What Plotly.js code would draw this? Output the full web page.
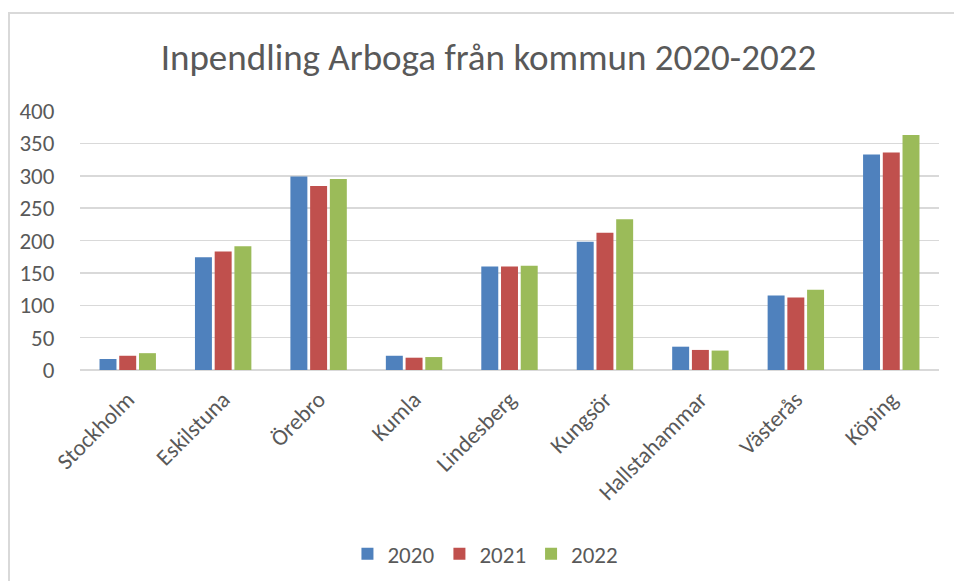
<!DOCTYPE html>
<html>
<head>
<meta charset="utf-8">
<script src="https://cdn.plot.ly/plotly-3.0.1.min.js"></script>
<style>
html,body{margin:0;padding:0;background:#fff;}
#wrap{position:relative;width:954px;height:581px;}
#chart{width:954px;height:581px;}
#frame{position:absolute;left:8px;top:12px;right:-10px;bottom:-10px;border-left:2px solid #d9d9d9;border-top:2px solid #d9d9d9;pointer-events:none;}
</style>
</head>
<body>
<div id="wrap"><div id="chart"></div><div id="frame"></div></div>
<script>
const categories = ["Stockholm","Eskilstuna","Örebro","Kumla","Lindesberg","Kungsör","Hallstahammar","Västerås","Köping"];
const years = ["2020","2021","2022"];
const v2020 = [17,174,299,22,160,198,36,115,333];
const v2021 = [22,183,284,19,160,212,31,112,336];
const v2022 = [26,191,295,20,161,233,30,124,363];
const colors = ["#4f81bd","#c0504d","#9bbb59"];
const series = [v2020, v2021, v2022];

const font = "Calibri, Carlito, 'Open Sans', sans-serif";
const traces = series.map((vals, i) => ({
  type: "bar",
  name: years[i],
  x: categories,
  y: vals,
  marker: {color: colors[i]},
  hoverinfo: "x+y+name"
}));

const layout = {
  width: 954, height: 581,
  margin: {l: 80, r: 15, t: 111, b: 211, autoexpand: false},
  paper_bgcolor: "#fff", plot_bgcolor: "#fff",
  font: {family: font, color: "#595959", size: 23},
  title: {text: "Inpendling Arboga från kommun 2020-2022", font: {family: font, size: 37, color: "#595959"}, x: 0.512, xref: "container", xanchor: "center", y: 0.902, yref: "container", yanchor: "middle"},
  barmode: "group",
  bargap: 0.38,
  bargroupgap: 0.14,
  xaxis: {tickangle: -45, tickfont: {size: 23, color: "#595959"}, showgrid: false, showline: false, zeroline: false, ticks: "outside", ticklen: 6, tickcolor: "rgba(0,0,0,0)", automargin: false},
  yaxis: {range: [0, 400], dtick: 50, tickfont: {size: 23, color: "#595959"}, gridcolor: "#d9d9d9", gridwidth: 1.5, zeroline: true, zerolinecolor: "#d9d9d9", zerolinewidth: 2, showline: false, ticks: "outside", ticklen: 20, tickcolor: "rgba(0,0,0,0)", automargin: false},
  legend: {orientation: "h", x: 0.472, xanchor: "center", y: -0.71, yanchor: "middle", font: {size: 23, color: "#595959"}, itemwidth: 30, traceorder: "normal"},
  showlegend: true
};
Plotly.newPlot("chart", traces, layout, {displayModeBar: false, staticPlot: true});
</script>
</body>
</html>
